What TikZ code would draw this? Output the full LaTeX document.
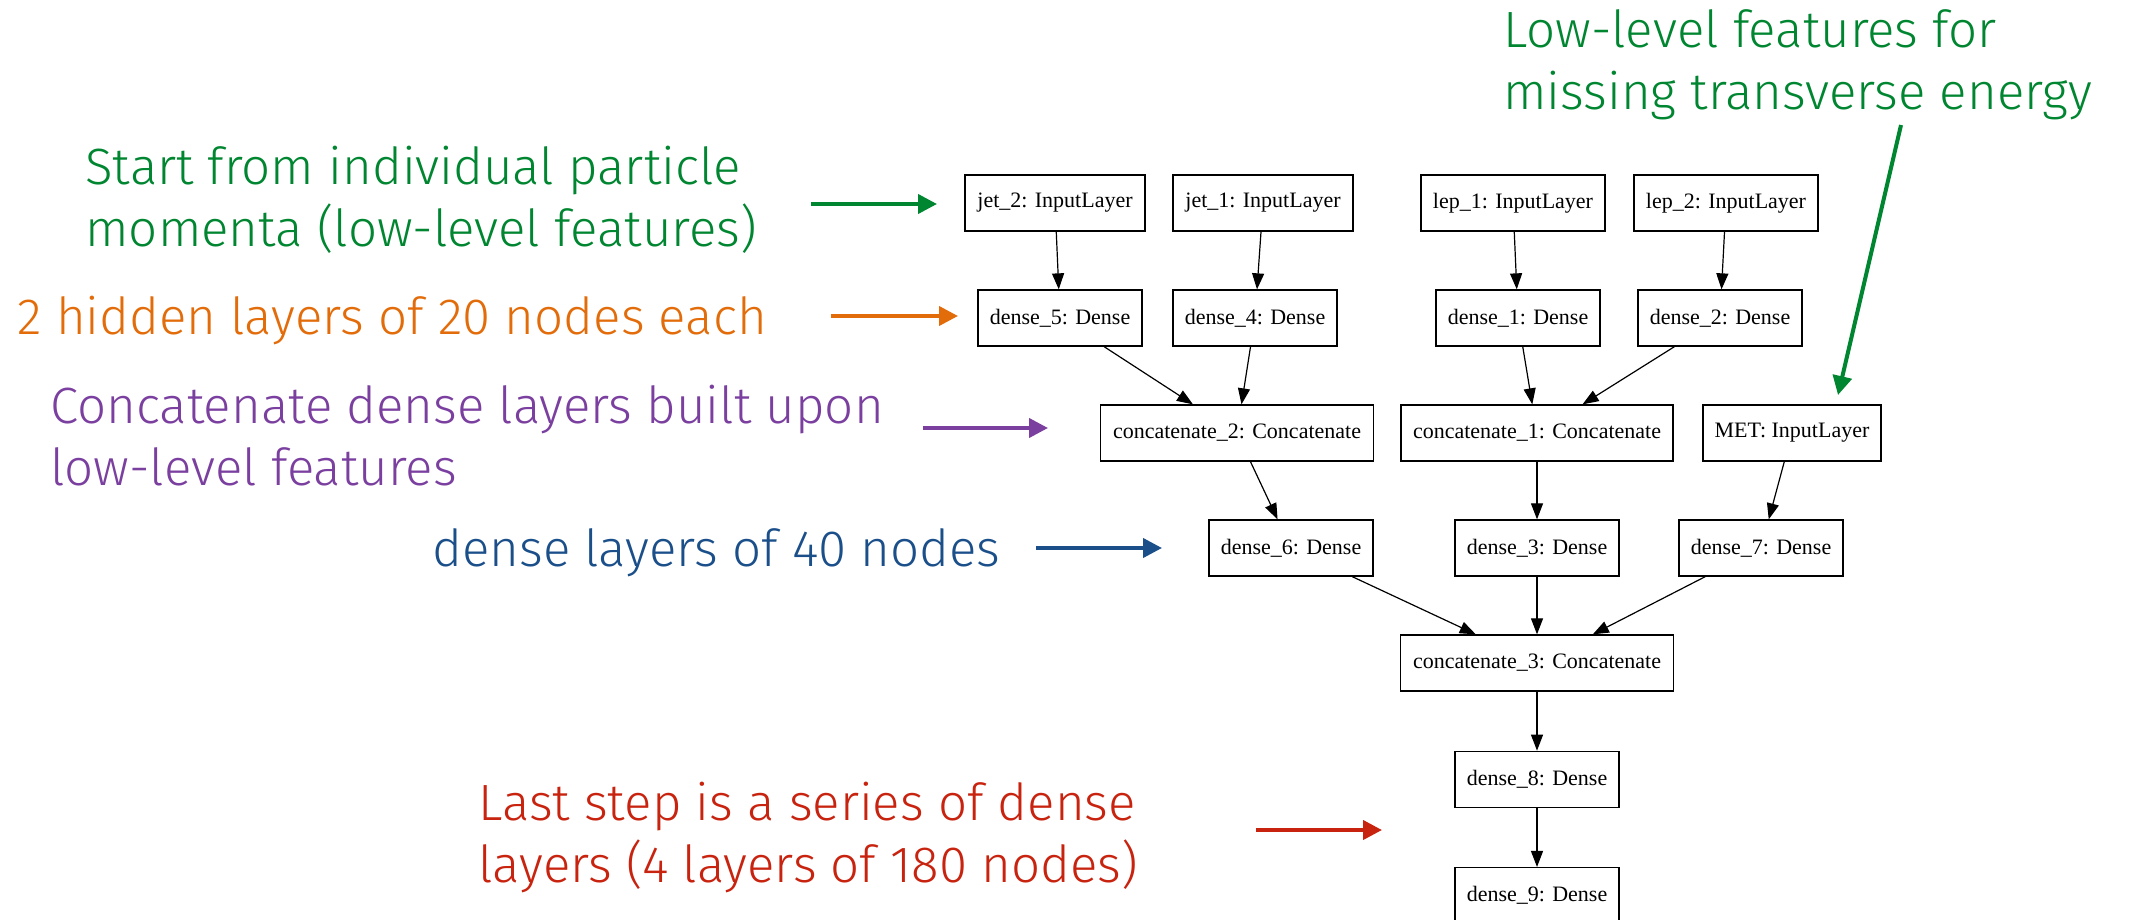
\documentclass[tikz,border=0pt]{standalone}
\usepackage{fontspec}
\setmainfont{Liberation Serif}
\newfontfamily\notas{Fira Sans Light}
\usetikzlibrary{positioning,arrows.meta}
\definecolor{verde}{HTML}{008530}
\definecolor{naranja}{HTML}{E36C0A}
\definecolor{morado}{HTML}{7A3F9F}
\definecolor{azul}{HTML}{1B4F8A}
\definecolor{rojo}{HTML}{C8230F}

\begin{document}
\begin{tikzpicture}[x=0.5pt,y=-0.5pt,font=\fontsize{11}{13}\selectfont,
        n/.style={draw,line width=0.65pt,minimum width=#1,minimum height=28pt,inner xsep=2pt,inner ysep=0pt},
        f/.style={-{Triangle[length=8pt,width=6pt]},line width=0.6pt},
        t/.style={font=\notas\fontsize{25.5}{31}\selectfont,align=left,anchor=base west,inner sep=0pt},
        g/.style={-{Triangle[length=9.5pt,width=9.5pt]},line width=2pt}]
  \useasboundingbox (0,0) rectangle (2129,920);
  % capas de entrada
  \node[n=90pt] (j2) at (1055,203) {jet\_2: InputLayer};
  \node[n=90pt] (j1) at (1263,203) {jet\_1: InputLayer};
  \node[n=92pt] (l1) at (1513,203) {lep\_1: InputLayer};
  \node[n=92pt] (l2) at (1726,203) {lep\_2: InputLayer};
  \node[n=82pt] (d5) at (1060,318) {dense\_5: Dense};
  \node[n=82pt] (d4) at (1255,318) {dense\_4: Dense};
  \node[n=82pt] (d1) at (1518,318) {dense\_1: Dense};
  \node[n=82pt] (d2) at (1720,318) {dense\_2: Dense};
  \node[n=136.5pt] (c2) at (1237,433) {concatenate\_2: Concatenate};
  \node[n=136pt] (c1) at (1537,433) {concatenate\_1: Concatenate};
  \node[n=89pt] (met) at (1792,433) {MET: InputLayer};
  \node[n=82pt] (d6) at (1291,548) {dense\_6: Dense};
  \node[n=82pt] (d3) at (1537,548) {dense\_3: Dense};
  \node[n=82pt] (d7) at (1761,548) {dense\_7: Dense};
  \node[n=136.5pt] (c3) at (1537,663) {concatenate\_3: Concatenate};
  \node[n=82pt,below=29.5pt of c3] (d8) {dense\_8: Dense};
  \node[n=82pt,below=29.5pt of d8] (d9) {dense\_9: Dense};
  \draw[f] (j2) -- (d5); \draw[f] (j1) -- (d4);
  \draw[f] (l1) -- (d1); \draw[f] (l2) -- (d2);
  \draw[f] (d5) -- (c2); \draw[f] (d4) -- (c2);
  \draw[f] (d1) -- (c1); \draw[f] (d2) -- (c1);
  \draw[f] (c2) -- (d6); \draw[f] (c1) -- (d3); \draw[f] (met) -- (d7);
  \draw[f] (d6) -- (c3); \draw[f] (d3) -- (c3); \draw[f] (d7) -- (c3);
  \draw[f] (c3) -- (d8); \draw[f] (d8) -- (d9);
  % notas (base = ultima linea)
  \node[t,verde] (nini) at (85,246) {Start from individual particle\\momenta (low-level features)};
  \node[t,naranja] (nocu) at (17,334) {2 hidden layers of 20 nodes each};
  \node[t,morado] (ncat) at (50,485) {Concatenate dense layers built upon\\low-level features};
  \node[t,azul] (nden) at (432,566) {dense layers of 40 nodes};
  \node[t,rojo] (nfin) at (478,882) {Last step is a series of dense\\layers (4 layers of 180 nodes)};
  \node[t,verde] (nmet) at (1503,110) {Low-level features for\\missing transverse energy};
  \coordinate (a1) at (811,204);  \coordinate (b1) at (937,204);
  \coordinate (a2) at (831,316);  \coordinate (b2) at (958,316);
  \coordinate (a3) at (923,428);  \coordinate (b3) at (1048,428);
  \coordinate (a4) at (1036,548); \coordinate (b4) at (1162,548);
  \coordinate (a5) at (1256,830); \coordinate (b5) at (1382,830);
  \coordinate (a6) at (1901,125); \coordinate (b6) at (1838,395);
  \draw[g,verde] (a1) -- (b1);
  \draw[g,naranja] (a2) -- (b2);
  \draw[g,morado] (a3) -- (b3);
  \draw[g,azul] (a4) -- (b4);
  \draw[g,rojo] (a5) -- (b5);
  \draw[g,verde] (a6) -- (b6);
\end{tikzpicture}
\end{document}
